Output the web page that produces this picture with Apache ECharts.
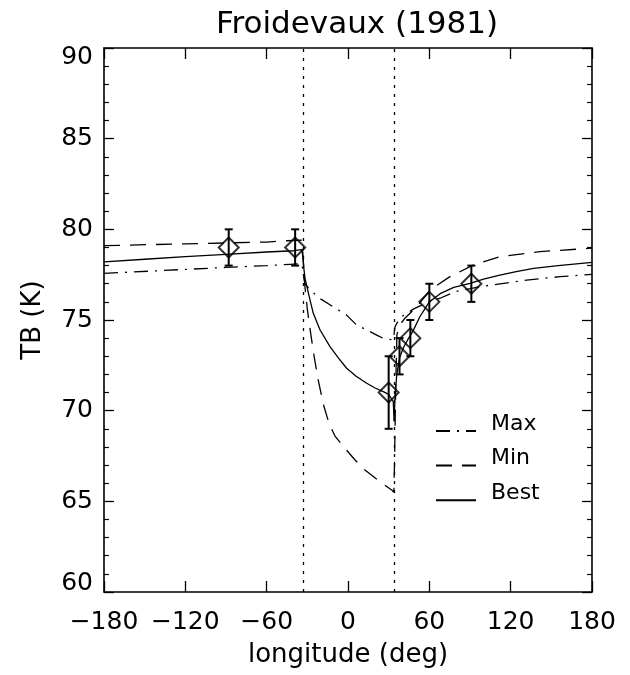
<!DOCTYPE html>
<html>
<head>
<meta charset="utf-8">
<script src="https://cdn.jsdelivr.net/npm/echarts@6/dist/echarts.min.js"></script>
<style>
  html, body { margin: 0; padding: 0; background: #fff; }
  #chart { width: 630px; height: 675px; }
</style>
</head>
<body>
<div id="chart"></div>
<script>
// ---- Data ----
const titleText = 'Froidevaux (1981)';
const xName = 'longitude (deg)';
const yName = 'TB (K)';
const seriesNames = ['Max', 'Min', 'Best'];

const xTicks = [-180, -120, -60, 0, 60, 120, 180];
const yTicks = [60, 65, 70, 75, 80, 85, 90];

// terminator longitudes (dotted vertical lines)
const terminatorLon = [-33, 34];

// observations
const obsLon = [-88, -39, 30, 38, 46, 60, 91];
const obsTB  = [79, 79, 71, 73, 74, 76, 77];
const obsErr = [1, 1, 2, 1, 1, 1, 1];

// Max model (dash-dot)
const maxLon = [-180, -120, -90, -60, -42.8, -34, -33.2, -32.5, -31.7, -28, -20, -10.9, -1, 6.4, 13.8, 21.2, 26, 33.4, 34.7, 37, 40.8, 48.2, 58, 67.9, 78.9, 97.4, 131.8, 156.4, 180];
const maxTB  = [77.57, 77.79, 77.9, 78.0, 78.07, 78.1, 77.7, 77.3, 77.0, 76.65, 76.15, 75.73, 75.27, 74.72, 74.45, 74.17, 73.99, 73.9, 74.63, 74.95, 75.25, 75.6, 75.95, 76.2, 76.56, 76.84, 77.2, 77.39, 77.52];

// Min model (dashed)
const minLon = [-180, -120, -90, -60, -45, -34, -33, -32, -30, -28, -25, -22, -18, -14, -9.6, -2.2, 5.2, 12.5, 23.6, 32.2, 33.8, 34.3, 34.8, 35.4, 36.1, 38, 42, 50.7, 60.5, 75.2, 92.4, 112.1, 141.6, 180];
const minTB  = [79.1, 79.2, 79.25, 79.3, 79.37, 79.4, 78.3, 77.0, 75.6, 74.5, 73.0, 71.7, 70.3, 69.3, 68.6, 67.92, 67.28, 66.73, 66.08, 65.63, 65.5, 67.0, 69.5, 72.0, 74.2, 74.7, 75.1, 75.73, 76.65, 77.39, 78.03, 78.49, 78.77, 78.96];

// Best model (solid)
const bestLon = [-180, -150, -120, -90, -60, -40, -34, -33.2, -32.5, -31.7, -28, -25.6, -20.6, -13.3, -7, -1, 6, 13.8, 20, 26, 30, 33.4, 34, 34.7, 36, 38, 41, 44, 48, 53, 60, 68, 78, 90, 100, 112, 125, 137, 155, 180];
const bestTB  = [78.2, 78.35, 78.5, 78.62, 78.75, 78.82, 78.88, 78.4, 77.8, 77.3, 76.1, 75.37, 74.45, 73.53, 72.9, 72.34, 71.9, 71.51, 71.25, 71.05, 70.9, 70.5, 69.4, 70.8, 72.0, 72.9, 73.5, 73.9, 74.4, 75.18, 76.0, 76.45, 76.8, 77.02, 77.25, 77.48, 77.68, 77.85, 78.0, 78.18];

// ---- Build chart ----
const zip = (a, b) => a.map((v, i) => [v, b[i]]);
const FONT = 'DejaVu Sans';
const BLACK = '#000';

const chart = echarts.init(document.getElementById('chart'), null, { renderer: 'canvas' });

const xCommon = {
  type: 'value', min: xTicks[0], max: xTicks[xTicks.length - 1], interval: 60,
  axisLine: { show: true, onZero: false, lineStyle: { color: BLACK, width: 1.6 } },
  axisTick: { show: true, inside: true, length: 11, lineStyle: { color: BLACK, width: 1.3 } },
  splitLine: { show: false }
};
const yCommon = {
  type: 'value', min: yTicks[0], max: yTicks[yTicks.length - 1], interval: 5,
  axisLine: { show: true, onZero: false, lineStyle: { color: BLACK, width: 1.6 } },
  axisTick: { show: true, inside: true, length: 10, lineStyle: { color: BLACK, width: 1.3 } },
  minorTick: { show: true, splitNumber: 5, length: 5, lineStyle: { color: BLACK, width: 1.2 } },
  splitLine: { show: false }, minorSplitLine: { show: false }
};
const lineBase = { type: 'line', symbol: 'none', showSymbol: false, animation: false, z: 3 };
const lblStyle = { fontFamily: FONT, fontSize: 24, color: BLACK };
const nameStyle = { fontFamily: FONT, fontSize: 26, color: BLACK };

const option = {
  backgroundColor: '#fff',
  animation: false,
  title: {
    text: titleText, left: 352, top: 4, textAlign: 'center',
    textStyle: { fontFamily: FONT, fontSize: 31, fontWeight: 'normal', color: BLACK }
  },
  grid: { left: 104, top: 48, right: 38, bottom: 83, containLabel: false },
  legend: {
    orient: 'vertical', left: 430, top: 408, itemWidth: 40, itemHeight: 14, itemGap: 11,
    data: seriesNames,
    itemStyle: { color: 'rgba(0,0,0,0)', borderColor: 'rgba(0,0,0,0)', borderWidth: 0 },
    formatter: name => '{a|' + name + '}',
    textStyle: {
      fontFamily: FONT, fontSize: 22, color: BLACK,
      rich: { a: { fontFamily: FONT, fontSize: 22, color: BLACK, padding: [0, 0, 14, 10] } }
    }
  },
  xAxis: [
    Object.assign({}, xCommon, {
      position: 'bottom',
      axisLabel: Object.assign({}, lblStyle, {
        fontSize: 25, margin: 18,
        formatter: v => (v < 0 ? '\u2212' + Math.abs(v) : String(v))
      }),
      name: xName, nameLocation: 'middle', nameGap: 50,
      nameTextStyle: nameStyle
    }),
    Object.assign({}, xCommon, { position: 'top', axisLabel: { show: false } })
  ],
  yAxis: [
    Object.assign({}, yCommon, {
      position: 'left',
      axisLabel: Object.assign({}, lblStyle, {
        fontSize: 25, margin: 11,
        formatter: v => (v === yTicks[yTicks.length - 1] ? '{top|' + v + '}' :
                          v === yTicks[0] ? '{bot|' + v + '}' : String(v)),
        rich: {
          top: Object.assign({}, lblStyle, { fontSize: 25, padding: [18, 0, 0, 0] }),
          bot: Object.assign({}, lblStyle, { fontSize: 25, padding: [0, 0, 18, 0] })
        }
      }),
      name: yName, nameLocation: 'middle', nameGap: 58, nameRotate: 90,
      nameTextStyle: nameStyle
    }),
    Object.assign({}, yCommon, { position: 'right', axisLabel: { show: false } })
  ],
  series: [
    Object.assign({}, lineBase, {
      name: 'Max', data: zip(maxLon, maxTB),
      lineStyle: { color: BLACK, width: 1.3, type: [14, 7, 2, 7] }, itemStyle: { color: BLACK }
    }),
    Object.assign({}, lineBase, {
      name: 'Min', data: zip(minLon, minTB),
      lineStyle: { color: BLACK, width: 1.3, type: [16, 10] }, itemStyle: { color: BLACK }
    }),
    Object.assign({}, lineBase, {
      name: 'Best', data: zip(bestLon, bestTB),
      lineStyle: { color: BLACK, width: 1.3, type: 'solid' }, itemStyle: { color: BLACK },
      markLine: {
        silent: true, symbol: 'none', animation: false,
        label: { show: false },
        lineStyle: { color: BLACK, width: 1.3, type: [3, 6] },
        data: terminatorLon.map(v => ({ xAxis: v }))
      }
    }),
    {
      type: 'custom', name: 'errorbars', z: 4, animation: false,
      data: obsLon.map((v, i) => [v, obsTB[i] - obsErr[i], obsTB[i] + obsErr[i]]),
      renderItem: function (params, api) {
        const lo = api.coord([api.value(0), api.value(1)]);
        const hi = api.coord([api.value(0), api.value(2)]);
        const cap = 4;
        const st = { stroke: BLACK, lineWidth: 2 };
        return {
          type: 'group',
          children: [
            { type: 'line', shape: { x1: lo[0], y1: lo[1], x2: hi[0], y2: hi[1] }, style: st },
            { type: 'line', shape: { x1: lo[0] - cap, y1: lo[1], x2: lo[0] + cap, y2: lo[1] }, style: st },
            { type: 'line', shape: { x1: hi[0] - cap, y1: hi[1], x2: hi[0] + cap, y2: hi[1] }, style: st }
          ]
        };
      }
    },
    {
      type: 'scatter', name: 'obs', z: 5, animation: false,
      data: zip(obsLon, obsTB),
      symbol: 'diamond', symbolSize: [20, 20],
      itemStyle: { color: 'rgba(0,0,0,0)', borderColor: BLACK, borderWidth: 2 }
    }
  ]
};
chart.setOption(option);
</script>
</body>
</html>
